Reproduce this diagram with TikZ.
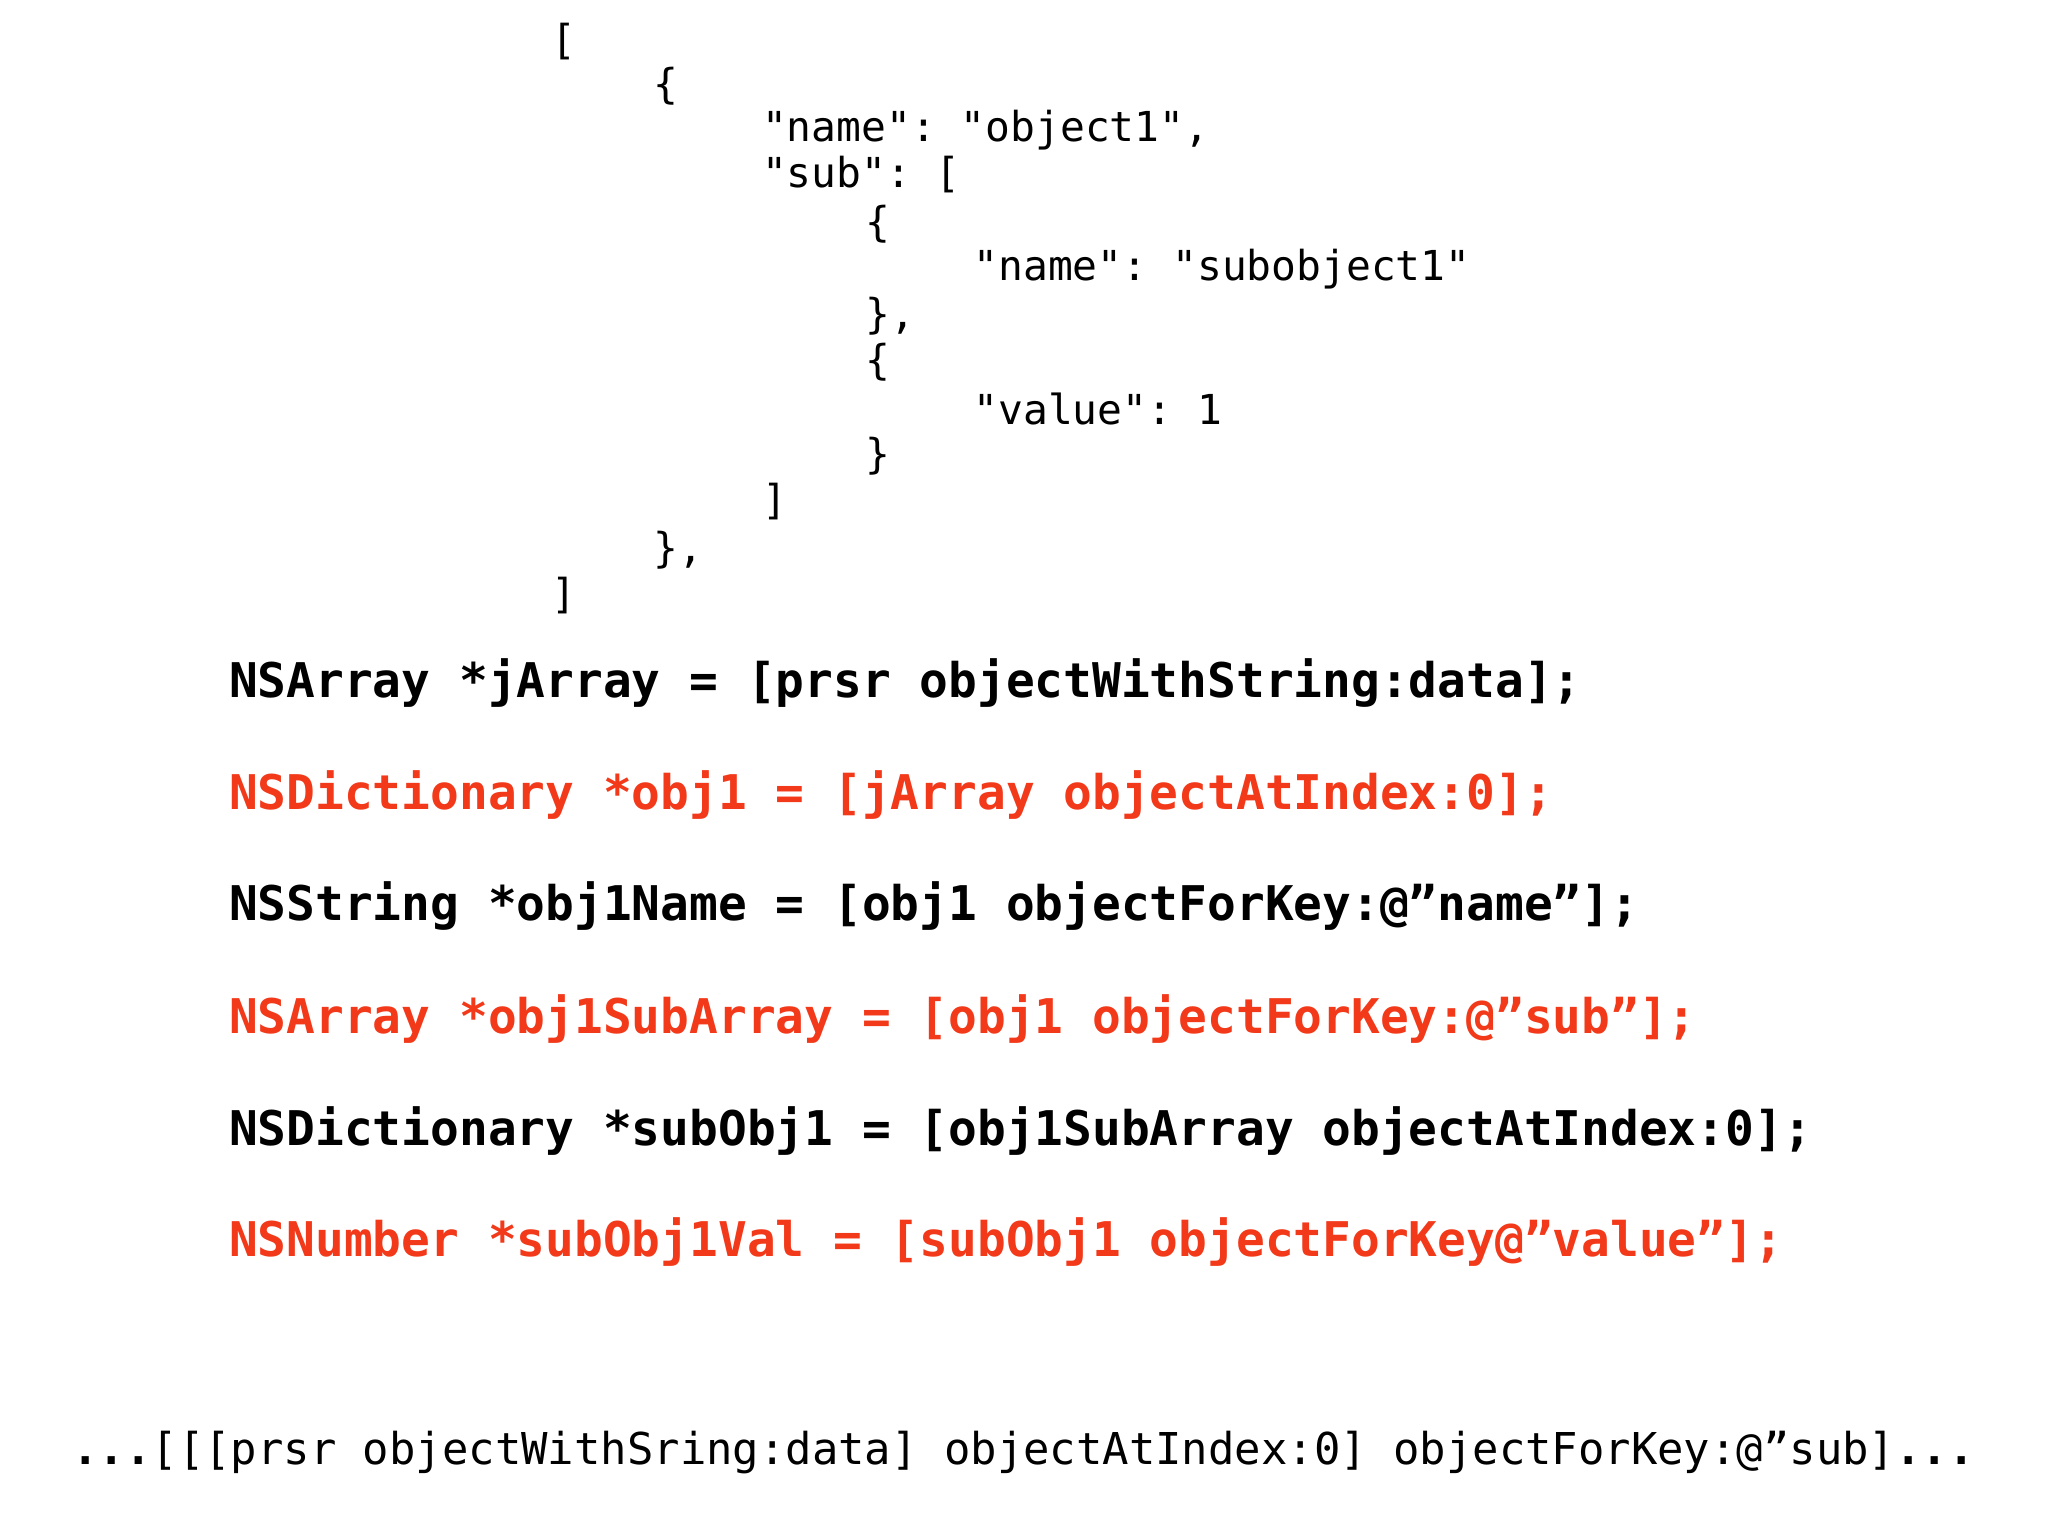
\documentclass[tikz,border=0pt]{standalone}
\usepackage{fontspec}
\setmonofont{DejaVu Sans Mono}
\definecolor{codered}{HTML}{F2391A}
\begin{document}
\begin{tikzpicture}[x=0.5pt,y=-0.5pt,
  js/.style={anchor=west,inner sep=0pt,font=\ttfamily\fontsize{15.8}{18}\selectfont},
  code/.style={anchor=west,inner sep=0pt,font=\ttfamily\bfseries\fontsize{18.3}{22}\selectfont},
  red/.style={text=codered},
  tail/.style={anchor=west,inner sep=0pt,font=\ttfamily\fontsize{16.8}{20}\selectfont}]
\useasboundingbox (0,0) rectangle (1568,1176);
\node[js] (j1) at (422,32) {[};
\node[js] (j2) at (500,66) {\{};
\node[js] (j3) at (583,100) {"name": "object1",};
\node[js] (j4) at (583,134) {"sub": [};
\node[js] (j5) at (662,172) {\{};
\node[js] (j6) at (745,206) {"name": "subobject1"};
\node[js] (j7) at (662,242) {\},};
\node[js] (j8) at (662,277) {\{};
\node[js] (j9) at (745,313) {"value": 1};
\node[js] (j10) at (662,349) {\}};
\node[js] (j11) at (583,384) {]};
\node[js] (j12) at (500,421) {\},};
\node[js] (j13) at (422,456) {]};
\node[code] (c1) at (175,523) {NSArray *jArray = [prsr objectWithString:data];};
\node[code,red] (c2) at (175,609) {NSDictionary *obj1 = [jArray objectAtIndex:0];};
\node[code] (c3) at (175,694) {NSString *obj1Name = [obj1 objectForKey:@”name”];};
\node[code,red] (c4) at (175,780) {NSArray *obj1SubArray = [obj1 objectForKey:@”sub”];};
\node[code] (c5) at (175,866) {NSDictionary *subObj1 = [obj1SubArray objectAtIndex:0];};
\node[code,red] (c6) at (175,951) {NSNumber *subObj1Val = [subObj1 objectForKey@”value”];};
\node[tail] (t) at (55,1112) {\textbf{...}[[[prsr objectWithSring:data] objectAtIndex:0] objectForKey:@”sub]\textbf{...}};
\end{tikzpicture}
\end{document}
